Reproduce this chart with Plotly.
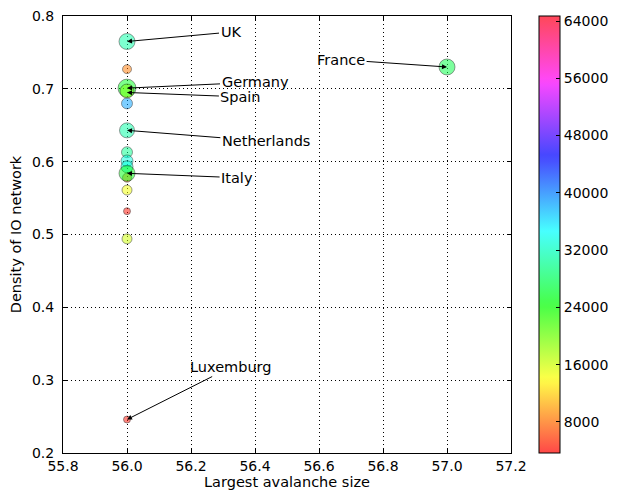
import numpy as np
import plotly.graph_objects as go

# ---- data ----
avalanche = [56, 56, 56, 56, 56, 56, 56, 56, 56, 56, 56, 56, 56, 56, 56, 57]
density = [0.765, 0.727, 0.701, 0.697, 0.680, 0.643, 0.613, 0.601, 0.593,
           0.578, 0.584, 0.561, 0.532, 0.494, 0.246, 0.730]
colour_value = [31000, 8500, 25500, 19500, 38500, 31000, 30000, 33500, 33000,
                9000, 25000, 14500, 4200, 16000, 4200, 27000]
marker_size = [16, 9, 18, 14, 11, 15, 11, 12, 12, 9, 16, 10, 7, 10, 7, 16]

labels = ["UK", "Germany", "Spain", "Netherlands", "Italy", "Luxemburg", "France"]
label_x = [56.0, 56.0, 56.0, 56.0, 56.0, 56.0, 57.0]
label_y = [0.765, 0.701, 0.695, 0.643, 0.584, 0.246, 0.730]
text_x = [56.325, 56.40, 56.356, 56.434, 56.344, 56.325, 56.669]
text_y = [0.778, 0.709, 0.689, 0.628, 0.578, 0.318, 0.740]

cbar_ticks = [8000, 16000, 24000, 32000, 40000, 48000, 56000, 64000]
cbar_ticktext = [str(v) for v in cbar_ticks]
cmin, cmax = 3650, 64700

# ---- matplotlib 'hsv' colormap rebuilt ----
red = [(0, 1), (0.158730, 1), (0.174603, 0.96875), (0.333333, 0.03125), (0.349206, 0),
       (0.666667, 0), (0.682540, 0), (0.841270, 0.9375), (0.857143, 1), (1, 1)]
green = [(0, 0), (0.158730, 0.9375), (0.174603, 1), (0.507937, 1), (0.666667, 0.0625),
         (0.682540, 0), (1, 0)]
blue = [(0, 0), (0.333333, 0), (0.349206, 0.0625), (0.507937, 1), (0.841270, 1),
        (0.857143, 0.9375), (1, 0.09375)]
stops = sorted(set([p for p, _ in red] + [p for p, _ in green] + [p for p, _ in blue]))
alpha = 0.72
colorscale = []
for s in stops:
    r = np.interp(s, *zip(*red))
    g = np.interp(s, *zip(*green))
    b = np.interp(s, *zip(*blue))
    colorscale.append([s, f"rgba({int(r*255)},{int(g*255)},{int(b*255)},{alpha})"])

TICK_FONT = dict(family="DejaVu Sans", size=14, color="black")
TEXT_FONT = dict(family="DejaVu Sans", size=14.5, color="black")

fig = go.Figure()
fig.add_trace(go.Scatter(
    x=avalanche, y=density, mode="markers",
    marker=dict(size=marker_size, color=colour_value, colorscale=colorscale,
                cmin=cmin, cmax=cmax,
                line=dict(color="rgba(0,0,0,0.55)", width=1),
                colorbar=dict(
                    x=1.0625, xanchor="left", y=0.5, yanchor="middle",
                    len=1.0, lenmode="fraction", thickness=21,
                    xpad=0, ypad=0,
                    outlinecolor="black", outlinewidth=1,
                    tickmode="array", tickvals=cbar_ticks, ticktext=cbar_ticktext,
                    ticks="inside", ticklen=4, tickcolor="black",
                    tickfont=TICK_FONT,
                )),
    showlegend=False, hoverinfo="x+y",
))

for lab, px, py, tx, ty in zip(labels, label_x, label_y, text_x, text_y):
    fig.add_annotation(x=px, y=py, ax=tx, ay=ty, axref="x", ayref="y",
                       xref="x", yref="y", text=lab, showarrow=True,
                       arrowhead=2, arrowsize=1, arrowwidth=1, arrowcolor="black",
                       font=TEXT_FONT)

axis_common = dict(showline=True, linecolor="black", linewidth=1, mirror="ticks",
                   ticks="inside", ticklen=4, tickcolor="black",
                   showgrid=True, gridcolor="black", griddash="1px,3px", gridwidth=1,
                   zeroline=False, automargin=False, tickfont=TICK_FONT,
                   ticklabeloverflow="allow")
fig.update_xaxes(range=[55.8, 57.2], dtick=0.2, tick0=55.8, tickformat=".1f",
                 title=dict(text="Largest avalanche size", standoff=3, font=TEXT_FONT),
                 **axis_common)
fig.update_yaxes(range=[0.2, 0.8], dtick=0.1, tick0=0.2, tickformat=".1f",
                 ticklabelstandoff=5,
                 title=dict(text="Density of IO network", standoff=8, font=TEXT_FONT),
                 **axis_common)

# page body adds an 8px offset, so the figure is sized to the remaining window
fig.update_layout(width=615, height=483,
                  margin=dict(l=55, r=112, t=8, b=38, autoexpand=False),
                  plot_bgcolor="white", paper_bgcolor="white")
fig.write_html("out.html")
